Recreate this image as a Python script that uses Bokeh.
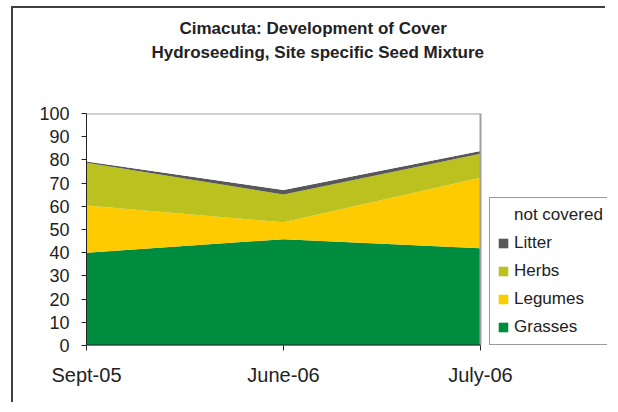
from bokeh.plotting import figure
from bokeh.models import (ColumnDataSource, Range1d, FixedTicker, Legend, LegendItem, Title)
from bokeh.embed import file_html
from bokeh.resources import INLINE

# ---- data ----
dates = ["Sept-05", "June-06", "July-06"]
grasses = [40.0, 45.8, 41.9]
legumes = [20.3, 7.3, 30.4]
herbs = [18.5, 12.0, 10.3]
litter = [0.5, 1.9, 1.2]
not_covered = [100 - (g + l + h + t) for g, l, h, t in zip(grasses, legumes, herbs, litter)]

series = ["Grasses", "Legumes", "Herbs", "Litter", "not covered"]
colors = ["#008C3F", "#FDCB00", "#BBC11E", "#58585A", "#FFFFFF"]

FONT = "Liberation Sans"
n = len(dates)
x_last = n - 1

src = ColumnDataSource(dict(
    x=list(range(n)),
    Grasses=grasses, Legumes=legumes, Herbs=herbs, Litter=litter,
    **{"not covered": not_covered},
))

# plot-area (series) width in px and the extra frame room used for the legend
AREA_W = 394
FRAME_W = 521

p = figure(width=594, height=396,
           x_range=Range1d(0, x_last * FRAME_W / AREA_W), y_range=Range1d(0, 100),
           output_backend="svg", toolbar_location=None,
           min_border_left=73, min_border_right=0,
           min_border_top=105, min_border_bottom=59)
p.styles = {"margin-top": "8px", "margin-left": "13px",
            "box-shadow": "-2px -2px 0px 0px #404040"}
p.title = None

renderers = p.varea_stack(stackers=series, x="x", color=colors, source=src)

# plot-area border (top / right light grey) and bottom axis line
p.line(x=[0, x_last, x_last], y=[100, 100, 0], line_color="#A0A0A0", line_width=2)
p.line(x=[0, x_last], y=[0, 0], line_color="#222222", line_width=2)

items = [LegendItem(label=s, renderers=[r]) for s, r in zip(series, renderers)]
items.reverse()
legend = Legend(items=items, location=(403, 0), margin=0, padding=7,
                spacing=8, label_height=20, glyph_width=12, glyph_height=12,
                label_standoff=5, label_text_font=FONT, label_text_font_size="17px",
                label_text_color="#222222", border_line_color="#333333",
                border_line_width=1, background_fill_color="white",
                background_fill_alpha=1.0)
p.add_layout(legend, "center")

# titles (first added is closest to the frame)
p.add_layout(Title(text=" ", text_font_size="34px"), "above")
p.add_layout(Title(text="Hydroseeding, Site specific Seed Mixture", align="left", offset=65,
                   standoff=3, text_font=FONT, text_font_size="17px",
                   text_font_style="bold", text_color="#222222"), "above")
p.add_layout(Title(text="Cimacuta: Development of Cover", align="left", offset=93,
                   standoff=3, text_font=FONT, text_font_size="17px",
                   text_font_style="bold", text_color="#222222"), "above")

# axes
p.xaxis.ticker = FixedTicker(ticks=list(range(n)))
p.xaxis.major_label_overrides = {i: d for i, d in enumerate(dates)}
p.yaxis.ticker = FixedTicker(ticks=list(range(0, 101, 10)))
for ax in (p.xaxis, p.yaxis):
    ax.major_tick_out = 5
    ax.major_tick_in = 0
    ax.minor_tick_line_color = None
    ax.major_label_text_font = FONT
    ax.major_label_text_color = "#222222"
    ax.major_tick_line_color = "#222222"
    ax.axis_line_color = "#222222"
p.xaxis.axis_line_color = None
p.xaxis.major_label_text_font_size = "20px"
p.yaxis.major_label_text_font_size = "18px"
p.yaxis.major_label_standoff = 12
p.xaxis.major_label_standoff = 13
p.xgrid.visible = False
p.ygrid.visible = False
p.outline_line_color = None
p.background_fill_color = "white"
p.border_fill_color = "white"

open("out.html", "w").write(file_html(p, INLINE))
